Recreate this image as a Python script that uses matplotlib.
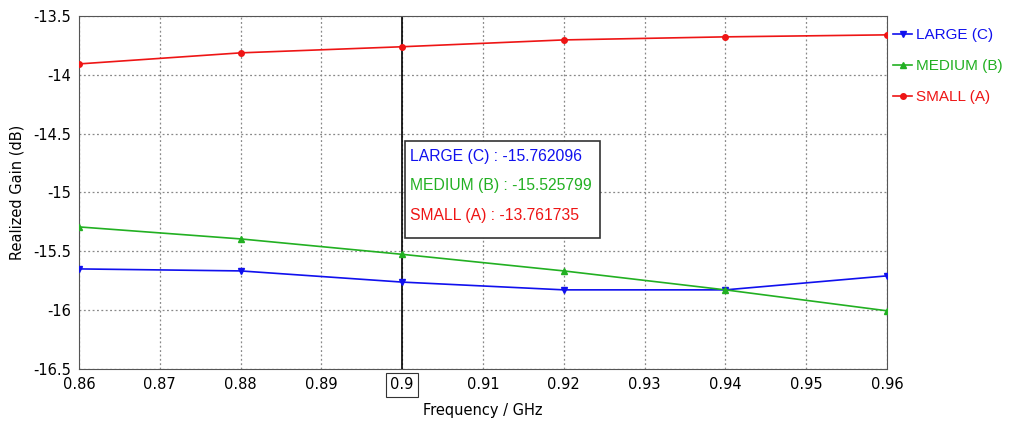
import matplotlib.pyplot as plt
from matplotlib.ticker import FuncFormatter

# Data
freq = [0.86, 0.88, 0.90, 0.92, 0.94, 0.96]
large_c = [-15.650, -15.667, -15.762, -15.828, -15.828, -15.709]
medium_b = [-15.293, -15.395, -15.526, -15.667, -15.828, -16.006]
small_a = [-13.908, -13.814, -13.762, -13.704, -13.678, -13.661]

marker_freq = 0.9
marker_vals = {'LARGE (C)': -15.762096, 'MEDIUM (B)': -15.525799, 'SMALL (A)': -13.761735}

blue = '#1010ee'
green = '#22b022'
red = '#ee1515'

plt.rcParams['font.family'] = ['DejaVu Sans']
label_font = ['Liberation Sans', 'DejaVu Sans']

fig = plt.figure(figsize=(10.1, 4.3), dpi=100)
ax = fig.add_axes([0.0782, 0.142, 0.800, 0.821])

ax.plot(freq, large_c, color=blue, lw=1.2, marker='v', ms=5, label='LARGE (C)', zorder=3)
ax.plot(freq, medium_b, color=green, lw=1.2, marker='^', ms=5, label='MEDIUM (B)', zorder=3)
ax.plot(freq, small_a, color=red, lw=1.2, marker='o', ms=4, label='SMALL (A)', zorder=3)

ax.axvline(marker_freq, color='black', lw=1.2, zorder=2.5)

ax.set_xlim(0.86, 0.96)
ax.set_ylim(-16.5, -13.5)
ax.set_xticks([0.86 + 0.01 * i for i in range(11)])
ax.set_yticks([-16.5, -16, -15.5, -15, -14.5, -14, -13.5])
ax.xaxis.set_major_formatter(FuncFormatter(lambda v, p: '%g' % round(v, 2)))
ax.yaxis.set_major_formatter(FuncFormatter(lambda v, p: '%g' % v))
ax.tick_params(length=0, labelsize=10.5, pad=6)
ax.set_axisbelow(True)
ax.grid(True, color='#888888', linestyle=(0, (1.5, 2)), lw=0.9, zorder=0)
for s in ax.spines.values():
    s.set_color('#555555')

for lbl in ax.get_xticklabels():
    if lbl.get_text() == '0.9':
        lbl.set_bbox(dict(facecolor='white', edgecolor='#333333', pad=3, lw=0.8))

ax.set_xlabel('Frequency / GHz', fontsize=10.5, labelpad=8)
ax.set_ylabel('Realized Gain (dB)', fontsize=10.5, labelpad=6)

ax.legend(loc='upper left', bbox_to_anchor=(1.008, 0.965), frameon=False,
          labelcolor='linecolor', prop={'family': label_font, 'size': 11},
          handlelength=1.2, handletextpad=0.3, labelspacing=1.12, borderaxespad=0,
          borderpad=0)

# marker readout box
colors = [blue, green, red]
box_x, box_top, box_bot = 0.9004, -14.562, -15.386
row_y = [-14.698, -14.944, -15.199]
ax.add_patch(plt.Rectangle((box_x, box_bot), 0.0241, box_top - box_bot, facecolor='white',
                           edgecolor='#333333', lw=1.2, zorder=4))
for i, (k, v) in enumerate(marker_vals.items()):
    ax.text(box_x + 0.0006, row_y[i], f'{k} : {v:.6f}', color=colors[i],
            family=label_font, fontsize=11.3, va='center', ha='left', zorder=5)

fig.savefig('out.png', dpi=100)
